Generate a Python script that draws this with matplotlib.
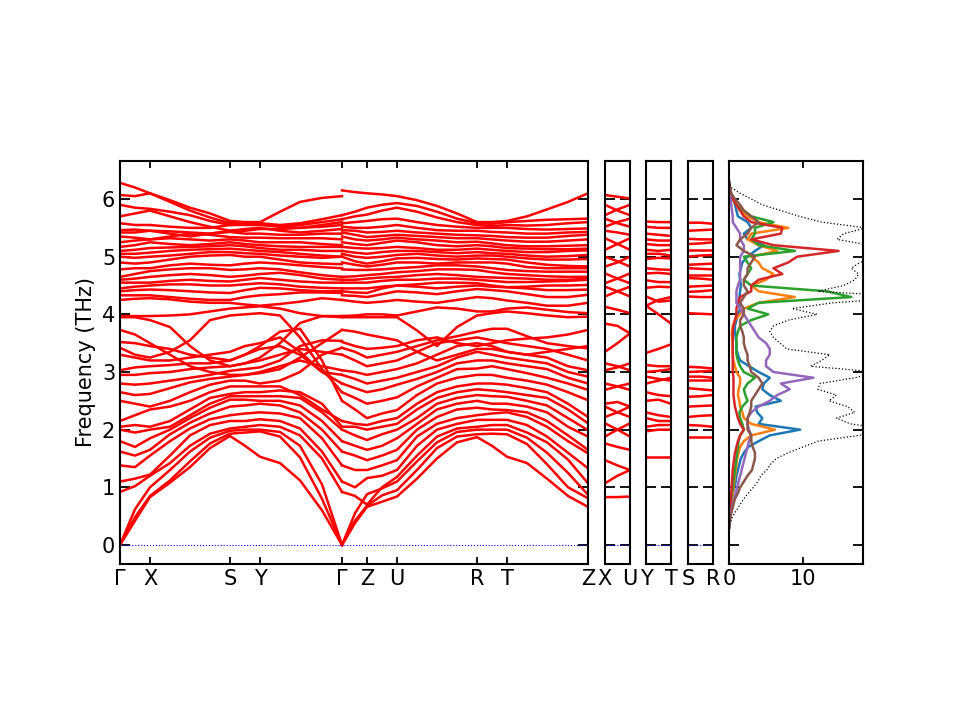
import numpy as np
import matplotlib
matplotlib.use('Agg')
import matplotlib.pyplot as plt


# k-path distances of the sampled columns (Gamma-X-S-Y-Gamma | Gamma-Z-U-R-T-Z)
kdist_left = [0, 15, 30, 50, 70, 90, 110, 125, 140, 160, 180, 202, 222]
kdist_right = [222, 235, 247, 262, 277, 297, 317, 337, 357, 372, 387, 407, 427, 448, 468]
hs_pos = [0, 30, 110, 140, 222, 247, 277, 357, 387, 468]
hs_labels = ['Γ', 'X', 'S', 'Y', 'Γ', 'Z', 'U', 'R', 'T', 'Z']

# frequencies (THz) along Gamma-X-S-Y-Gamma
left_bands = [
    [0, .42, .83, 1.08, 1.35, 1.68, 1.89, 1.72, 1.53, 1.42, 1.12, .6, 0],
    [0, .48, .85, 1.12, 1.45, 1.76, 1.93, 1.95, 1.97, 1.88, 1.52, .8, 0],
    [0, .62, 1.0, 1.3, 1.62, 1.86, 1.98, 2.0, 2.0, 1.96, 1.72, 1.05, 0],
    [.92, 1.02, 1.2, 1.42, 1.72, 1.93, 2.02, 2.05, 2.08, 2.05, 1.9, 1.5, .92],
    [1.1, 1.15, 1.22, 1.55, 1.9, 2.08, 2.15, 2.15, 2.18, 2.15, 2.02, 1.62, 1.1],
    [1.38, 1.35, 1.55, 1.8, 2.02, 2.18, 2.25, 2.28, 2.3, 2.28, 2.2, 1.85, 1.38],
    [1.62, 1.55, 1.65, 1.92, 2.12, 2.28, 2.4, 2.42, 2.45, 2.42, 2.3, 2.0, 1.62],
    [1.8, 1.7, 1.85, 2.0, 2.2, 2.38, 2.52, 2.52, 2.5, 2.5, 2.42, 2.15, 1.8],
    [2.0, 1.95, 2.0, 2.05, 2.25, 2.45, 2.58, 2.58, 2.58, 2.58, 2.55, 2.3, 2.0],
    [2.05, 2.08, 2.05, 2.15, 2.35, 2.55, 2.62, 2.65, 2.65, 2.68, 2.65, 2.45, 2.05],
    [2.15, 2.25, 2.35, 2.4, 2.5, 2.65, 2.75, 2.75, 2.75, 2.75, 2.6, 2.35, 2.15],
    [2.5, 2.45, 2.4, 2.5, 2.65, 2.78, 2.85, 2.85, 2.8, 2.85, 3.0, 3.3, 3.42],
    [2.65, 2.6, 2.62, 2.72, 2.82, 2.88, 2.92, 2.95, 2.98, 3.05, 3.25, 3.5, 3.73],
    [2.8, 2.78, 2.8, 2.85, 2.9, 2.95, 3.02, 3.05, 3.08, 3.2, 3.45, 3.55, 3.54],
    [2.95, 2.95, 2.98, 3.0, 3.05, 3.08, 3.1, 3.15, 3.2, 3.3, 3.4, 3.35, 3.3],
    [3.03, 3.08, 3.1, 3.12, 3.15, 3.15, 3.2, 3.3, 3.4, 3.45, 3.3, 3.0, 2.95],
    [3.3, 3.25, 3.2, 3.2, 3.25, 3.3, 3.35, 3.45, 3.5, 3.6, 3.35, 3.0, 2.8],
    [3.42, 3.3, 3.25, 3.35, 3.55, 3.9, 3.98, 4.0, 4.02, 3.98, 3.6, 3.05, 2.65],
    [3.52, 3.5, 3.45, 3.4, 3.3, 3.25, 3.2, 3.3, 3.45, 3.7, 3.75, 3.2, 2.5],
    [3.73, 3.65, 3.5, 3.3, 3.1, 3.0, 2.95, 2.95, 3.0, 3.1, 3.2, 3.1, 3.03],
    [3.95, 3.95, 3.9, 3.78, 3.45, 3.2, 3.1, 3.15, 3.25, 3.5, 3.85, 3.97, 3.95],
    [3.97, 3.97, 3.97, 3.98, 4.0, 4.05, 4.1, 4.12, 4.14, 4.1, 4.02, 3.97, 3.97],
    [4.25, 4.27, 4.28, 4.26, 4.22, 4.2, 4.2, 4.17, 4.15, 4.18, 4.22, 4.28, 4.25],
    [4.33, 4.33, 4.33, 4.3, 4.27, 4.25, 4.25, 4.3, 4.33, 4.35, 4.38, 4.38, 4.37],
    [4.4, 4.42, 4.43, 4.42, 4.4, 4.38, 4.37, 4.42, 4.46, 4.45, 4.42, 4.4, 4.4],
    [4.45, 4.48, 4.5, 4.52, 4.52, 4.5, 4.5, 4.52, 4.54, 4.52, 4.48, 4.46, 4.45],
    [4.55, 4.55, 4.55, 4.58, 4.6, 4.58, 4.57, 4.6, 4.63, 4.6, 4.57, 4.55, 4.55],
    [4.6, 4.62, 4.65, 4.68, 4.7, 4.68, 4.65, 4.67, 4.7, 4.72, 4.68, 4.62, 4.6],
    [4.65, 4.7, 4.75, 4.78, 4.8, 4.8, 4.77, 4.78, 4.8, 4.78, 4.73, 4.68, 4.65],
    [4.78, 4.8, 4.8, 4.85, 4.88, 4.86, 4.85, 4.88, 4.9, 4.88, 4.85, 4.82, 4.8],
    [4.9, 4.88, 4.9, 4.95, 5.0, 5.02, 5.03, 5.0, 5.0, 4.95, 4.9, 4.88, 4.87],
    [5.0, 4.98, 5.0, 5.02, 5.05, 5.08, 5.08, 5.06, 5.05, 5.02, 5.0, 4.98, 5.0],
    [5.05, 5.05, 5.07, 5.1, 5.12, 5.13, 5.14, 5.12, 5.1, 5.08, 5.05, 5.02, 5.0],
    [5.1, 5.12, 5.15, 5.16, 5.17, 5.18, 5.2, 5.18, 5.15, 5.12, 5.12, 5.1, 5.1],
    [5.17, 5.2, 5.25, 5.22, 5.2, 5.22, 5.25, 5.22, 5.2, 5.18, 5.17, 5.17, 5.17],
    [5.25, 5.28, 5.3, 5.32, 5.3, 5.28, 5.3, 5.28, 5.25, 5.25, 5.25, 5.22, 5.2],
    [5.35, 5.33, 5.3, 5.35, 5.4, 5.38, 5.34, 5.33, 5.33, 5.32, 5.32, 5.32, 5.3],
    [5.42, 5.42, 5.45, 5.44, 5.42, 5.4, 5.43, 5.4, 5.4, 5.38, 5.38, 5.4, 5.4],
    [5.46, 5.47, 5.45, 5.4, 5.35, 5.4, 5.45, 5.48, 5.5, 5.45, 5.42, 5.45, 5.48],
    [5.7, 5.75, 5.8, 5.7, 5.6, 5.52, 5.45, 5.45, 5.48, 5.48, 5.5, 5.55, 5.6],
    [5.58, 5.55, 5.55, 5.52, 5.5, 5.5, 5.55, 5.56, 5.58, 5.52, 5.5, 5.52, 5.55],
    [5.9, 5.85, 5.83, 5.78, 5.72, 5.62, 5.55, 5.55, 5.55, 5.52, 5.55, 5.6, 5.65],
    [6.07, 6.05, 6.1, 5.95, 5.8, 5.68, 5.58, 5.58, 5.58, 5.55, 5.58, 5.65, 5.72],
    [6.28, 6.2, 6.1, 5.98, 5.85, 5.75, 5.62, 5.6, 5.6, 5.78, 5.95, 6.02, 6.05],
]

# frequencies (THz) along Gamma-Z-U-R-T-Z
right_bands = [
    [0, .38, .66, .75, .84, 1.15, 1.5, 1.78, 1.87, 1.72, 1.53, 1.42, 1.15, .85, .66],
    [0, .42, .68, .86, .95, 1.3, 1.68, 1.88, 1.92, 1.93, 1.92, 1.75, 1.4, 1.0, .81],
    [0, .55, .88, .98, 1.1, 1.45, 1.78, 1.96, 2.0, 2.0, 2.0, 1.86, 1.6, 1.25, .87],
    [.92, .85, .7, 1.0, 1.18, 1.55, 1.88, 2.02, 2.05, 2.08, 2.08, 1.95, 1.78, 1.48, 1.07],
    [1.1, 1.0, 1.16, 1.2, 1.3, 1.72, 2.0, 2.1, 2.17, 2.17, 2.17, 2.08, 1.88, 1.6, 1.33],
    [1.38, 1.3, 1.3, 1.38, 1.47, 1.88, 2.1, 2.2, 2.25, 2.28, 2.3, 2.22, 2.05, 1.8, 1.59],
    [1.62, 1.55, 1.47, 1.55, 1.65, 2.0, 2.22, 2.35, 2.38, 2.35, 2.34, 2.3, 2.15, 1.9, 1.65],
    [1.8, 1.72, 1.65, 1.72, 1.85, 2.1, 2.35, 2.45, 2.5, 2.45, 2.45, 2.4, 2.3, 2.05, 1.88],
    [2.0, 1.9, 1.82, 1.92, 2.0, 2.2, 2.45, 2.55, 2.6, 2.58, 2.57, 2.5, 2.42, 2.2, 1.99],
    [2.05, 2.05, 2.0, 2.05, 2.1, 2.35, 2.55, 2.65, 2.7, 2.68, 2.65, 2.6, 2.55, 2.35, 2.11],
    [2.15, 2.1, 2.08, 2.15, 2.2, 2.45, 2.65, 2.75, 2.8, 2.8, 2.78, 2.72, 2.65, 2.45, 2.22],
    [2.5, 2.35, 2.2, 2.28, 2.34, 2.6, 2.8, 2.9, 2.95, 2.95, 2.9, 2.85, 2.78, 2.65, 2.51],
    [2.65, 2.55, 2.45, 2.5, 2.56, 2.75, 2.9, 3.05, 3.06, 3.1, 3.05, 2.98, 2.9, 2.8, 2.69],
    [2.8, 2.72, 2.65, 2.7, 2.78, 2.88, 3.0, 3.15, 3.2, 3.2, 3.15, 3.1, 3.05, 2.9, 2.8],
    [2.95, 2.88, 2.8, 2.85, 2.9, 3.0, 3.1, 3.25, 3.35, 3.3, 3.25, 3.2, 3.15, 3.0, 2.92],
    [3.03, 3.0, 2.95, 3.0, 3.05, 3.15, 3.3, 3.45, 3.5, 3.45, 3.35, 3.3, 3.25, 3.1, 3.03],
    [3.3, 3.2, 3.1, 3.15, 3.2, 3.35, 3.5, 3.55, 3.6, 3.55, 3.5, 3.45, 3.4, 3.3, 3.2],
    [3.42, 3.35, 3.25, 3.3, 3.35, 3.45, 3.55, 3.62, 3.7, 3.75, 3.75, 3.62, 3.5, 3.45, 3.41],
    [3.52, 3.45, 3.4, 3.42, 3.45, 3.55, 3.6, 3.5, 3.45, 3.5, 3.55, 3.58, 3.6, 3.65, 3.73],
    [3.73, 3.7, 3.65, 3.6, 3.55, 3.35, 3.2, 3.3, 3.4, 3.4, 3.35, 3.3, 3.35, 3.4, 3.45],
    [3.95, 3.95, 3.95, 3.95, 3.95, 3.72, 3.45, 3.78, 3.98, 4.02, 4.05, 4.02, 3.98, 3.95, 3.96],
    [3.97, 3.98, 4.0, 4.0, 3.98, 4.05, 4.12, 4.1, 4.05, 4.05, 4.1, 4.12, 4.08, 4.04, 4.02],
    [4.25, 4.22, 4.2, 4.22, 4.25, 4.22, 4.2, 4.25, 4.3, 4.28, 4.24, 4.2, 4.15, 4.15, 4.2],
    [4.33, 4.32, 4.3, 4.35, 4.4, 4.38, 4.35, 4.4, 4.44, 4.42, 4.4, 4.35, 4.3, 4.3, 4.34],
    [4.4, 4.38, 4.37, 4.45, 4.5, 4.48, 4.45, 4.48, 4.5, 4.48, 4.47, 4.45, 4.42, 4.42, 4.43],
    [4.45, 4.45, 4.45, 4.48, 4.5, 4.52, 4.55, 4.55, 4.54, 4.5, 4.47, 4.48, 4.5, 4.5, 4.51],
    [4.55, 4.55, 4.55, 4.58, 4.6, 4.6, 4.62, 4.62, 4.6, 4.58, 4.56, 4.56, 4.57, 4.58, 4.6],
    [4.6, 4.6, 4.62, 4.64, 4.65, 4.68, 4.7, 4.68, 4.65, 4.64, 4.63, 4.62, 4.6, 4.6, 4.62],
    [4.65, 4.66, 4.68, 4.7, 4.73, 4.75, 4.78, 4.78, 4.77, 4.73, 4.7, 4.68, 4.66, 4.65, 4.65],
    [4.78, 4.77, 4.77, 4.78, 4.8, 4.82, 4.85, 4.85, 4.83, 4.8, 4.77, 4.75, 4.74, 4.74, 4.74],
    [4.9, 4.86, 4.83, 4.86, 4.9, 4.9, 4.88, 4.9, 4.9, 4.9, 4.88, 4.82, 4.8, 4.8, 4.8],
    [5.0, 4.92, 4.88, 4.92, 4.97, 4.98, 4.96, 4.95, 4.97, 4.96, 4.95, 4.9, 4.86, 4.84, 4.83],
    [5.05, 5.0, 4.98, 5.0, 5.03, 5.05, 5.02, 5.0, 5.02, 5.02, 5.0, 4.97, 4.95, 4.95, 4.96],
    [5.1, 5.07, 5.05, 5.08, 5.1, 5.1, 5.08, 5.06, 5.08, 5.06, 5.05, 5.02, 5.0, 5.01, 5.03],
    [5.17, 5.15, 5.14, 5.15, 5.17, 5.15, 5.12, 5.12, 5.14, 5.12, 5.1, 5.08, 5.08, 5.1, 5.11],
    [5.25, 5.22, 5.2, 5.24, 5.28, 5.25, 5.2, 5.18, 5.2, 5.18, 5.15, 5.14, 5.13, 5.13, 5.14],
    [5.35, 5.3, 5.28, 5.3, 5.33, 5.3, 5.28, 5.25, 5.26, 5.23, 5.2, 5.18, 5.18, 5.19, 5.2],
    [5.42, 5.38, 5.34, 5.36, 5.38, 5.36, 5.34, 5.32, 5.32, 5.3, 5.28, 5.26, 5.26, 5.28, 5.3],
    [5.46, 5.45, 5.42, 5.43, 5.45, 5.42, 5.4, 5.38, 5.37, 5.36, 5.34, 5.33, 5.33, 5.36, 5.38],
    [5.52, 5.5, 5.5, 5.52, 5.55, 5.5, 5.46, 5.45, 5.45, 5.43, 5.42, 5.4, 5.4, 5.42, 5.43],
    [5.58, 5.6, 5.62, 5.65, 5.66, 5.6, 5.55, 5.52, 5.5, 5.5, 5.5, 5.48, 5.47, 5.48, 5.49],
    [5.65, 5.7, 5.73, 5.8, 5.85, 5.78, 5.68, 5.6, 5.55, 5.53, 5.55, 5.54, 5.55, 5.58, 5.6],
    [5.72, 5.78, 5.85, 5.9, 5.93, 5.88, 5.78, 5.66, 5.58, 5.57, 5.6, 5.62, 5.64, 5.65, 5.66],
    [6.15, 6.12, 6.1, 6.08, 6.05, 5.98, 5.88, 5.75, 5.6, 5.6, 5.62, 5.7, 5.82, 5.95, 6.1],
]

# short branches: values at start, middle, end
kdist_short = [0, 12.5, 25]
xu_bands = [
    [6.07, 6.04, 6.01], [5.9, 5.8, 5.72], [5.72, 5.82, 5.9], [5.66, 5.58, 5.52],
    [5.52, 5.6, 5.66], [5.45, 5.42, 5.38], [5.32, 5.22, 5.12], [5.12, 5.22, 5.32],
    [5.0, 4.92, 4.83], [4.83, 4.9, 5.0], [4.71, 4.62, 4.54], [4.54, 4.62, 4.71],
    [4.48, 4.4, 4.31], [4.31, 4.4, 4.48], [4.13, 4.08, 4.02], [3.84, 3.8, 3.67],
    [3.35, 3.5, 3.67], [3.15, 3.1, 3.03], [3.03, 3.08, 3.15], [2.8, 2.75, 2.69],
    [2.69, 2.75, 2.8], [2.45, 2.48, 2.4], [2.4, 2.3, 2.22], [2.22, 2.3, 2.4],
    [2.11, 2.0, 1.88], [1.88, 2.0, 2.11], [1.76, 1.7, 1.65], [1.47, 1.38, 1.3],
    [1.07, 1.2, 1.3], [0.83, 0.83, 0.84],
]
yt_bands = [
    [5.61, 5.6, 5.6], [5.52, 5.5, 5.5], [5.4, 5.38, 5.36], [5.3, 5.28, 5.28],
    [5.22, 5.2, 5.2], [5.12, 5.1, 5.12], [5.05, 5.05, 5.02], [4.96, 4.98, 4.97],
    [4.8, 4.78, 4.77], [4.71, 4.72, 4.7], [4.59, 4.56, 4.56], [4.46, 4.48, 4.47],
    [4.31, 4.22, 4.24], [4.15, 4.25, 4.3], [4.15, 4.0, 3.84], [3.33, 3.4, 3.48],
    [3.12, 3.1, 3.1], [3.0, 3.02, 3.05], [2.92, 2.88, 2.85], [2.8, 2.85, 2.9],
    [2.65, 2.6, 2.58], [2.5, 2.52, 2.45], [2.3, 2.25, 2.22], [2.2, 2.15, 2.15],
    [2.05, 2.08, 2.08], [1.97, 2.0, 2.0], [1.53, 1.53, 1.53],
]
sr_bands = [
    [5.59, 5.59, 5.57], [5.45, 5.46, 5.47], [5.31, 5.3, 5.3], [5.22, 5.23, 5.25],
    [5.12, 5.12, 5.12], [5.0, 5.02, 5.03], [4.86, 4.87, 4.88], [4.8, 4.79, 4.78],
    [4.68, 4.68, 4.68], [4.63, 4.62, 4.6], [4.48, 4.49, 4.5], [4.39, 4.4, 4.42],
    [4.31, 4.3, 4.3], [4.02, 4.01, 4.0], [3.09, 3.08, 3.06], [3.0, 3.01, 3.02],
    [2.92, 2.92, 2.9], [2.86, 2.86, 2.86], [2.72, 2.7, 2.68], [2.57, 2.58, 2.6],
    [2.4, 2.41, 2.42], [2.22, 2.24, 2.25], [2.08, 2.07, 2.05], [1.88, 1.88, 1.88],
]
short_panels = [(xu_bands, 'X', 'U'), (yt_bands, 'Y', 'T'), (sr_bands, 'S', 'R')]

# density of states
dos_freq = [0.3, 0.4, 0.5, 0.6, 0.7, 0.8, 0.9, 1.0, 1.1, 1.2, 1.3, 1.4, 1.5, 1.6, 1.7, 1.8,
            1.9, 2.0, 2.1, 2.2, 2.3, 2.4, 2.5, 2.6, 2.7, 2.8, 2.9, 3.0, 3.1, 3.2, 3.3, 3.4,
            3.5, 3.6, 3.7, 3.8, 3.9, 4.0, 4.1, 4.2, 4.3, 4.4, 4.5, 4.6, 4.7, 4.8, 4.9, 5.0,
            5.1, 5.2, 5.3, 5.4, 5.5, 5.6, 5.7, 5.8, 5.9, 6.0, 6.1, 6.2, 6.3]
total_dos = [0, 0.2, 0.5, 1.0, 1.5, 2.0, 2.6, 3.3, 3.9, 4.3, 5.1, 5.6, 6.4, 8.0, 10.0, 12.0,
             17.5, 22, 16.4, 14.5, 17.0, 16.0, 13.5, 14.5, 12.0, 12.3, 17.0, 20, 11.0, 12.5, 13.6, 7.8,
             6.9, 6.0, 5.5, 6.0, 8.0, 11.9, 8.5, 14.0, 25, 12.0, 15.5, 17.0, 17.5, 16.5, 17.7, 20,
             22, 19, 14.6, 15.5, 18.5, 12.5, 9.5, 7.0, 4.5, 3.0, 1.5, 0.3, 0]
pdos = [
    [0, 0.05, 0.1, 0.2, 0.3, 0.4, 0.5, 0.7, 0.9, 1.0, 1.2, 1.4, 1.6, 2.0, 2.6, 4.0,
     5.5, 9.6, 4.0, 4.5, 3.8, 3.6, 7.0, 5.5, 4.5, 4.7, 5.5, 4.0, 2.7, 1.5, 1.2, 1.0,
     1.0, 0.9, 0.8, 0.8, 1.0, 1.2, 1.5, 1.3, 1.4, 1.5, 1.6, 1.5, 1.4, 1.6, 1.8, 2.5,
     3.5, 4.7, 2.5, 2.0, 3.0, 2.5, 1.2, 1.0, 0.8, 0.6, 0.3, 0.1, 0],
    [0, 0.05, 0.1, 0.2, 0.3, 0.4, 0.5, 0.6, 0.7, 0.8, 0.9, 1.0, 1.1, 1.3, 1.5, 2.0,
     3.0, 6.2, 3.0, 2.0, 1.8, 1.5, 1.4, 1.2, 1.3, 1.5, 1.5, 1.0, 0.8, 0.6, 0.5, 0.5,
     0.5, 0.4, 0.4, 0.5, 0.8, 1.5, 2.0, 4.0, 8.9, 4.0, 3.0, 5.0, 6.0, 4.5, 4.0, 3.0,
     6.5, 4.0, 2.5, 3.0, 8.0, 4.0, 2.5, 1.5, 1.0, 0.5, 0.2, 0.1, 0],
    [0, 0.05, 0.1, 0.15, 0.2, 0.3, 0.4, 0.5, 0.6, 0.7, 0.8, 0.9, 1.0, 1.1, 1.2, 1.3,
     1.5, 2.0, 1.8, 1.5, 1.4, 1.8, 2.5, 2.2, 2.0, 2.5, 3.5, 2.0, 1.5, 1.2, 1.0, 1.0,
     1.0, 1.0, 1.2, 1.5, 3.0, 5.3, 2.5, 4.0, 16.5, 13.2, 3.0, 2.0, 2.5, 3.0, 2.5, 2.0,
     8.9, 4.0, 3.0, 3.5, 3.5, 6.0, 3.0, 2.0, 1.0, 0.5, 0.2, 0.1, 0],
    [0, 0.05, 0.1, 0.15, 0.2, 0.25, 0.3, 0.35, 0.4, 0.45, 0.5, 0.6, 0.7, 0.8, 1.0, 1.2,
     1.5, 2.0, 1.5, 1.2, 1.0, 0.8, 0.7, 0.6, 0.6, 0.6, 0.6, 0.5, 0.5, 0.5, 0.5, 0.5,
     0.5, 0.5, 0.5, 0.6, 0.8, 1.0, 1.0, 1.2, 1.5, 3.0, 3.0, 4.0, 7.2, 6.0, 8.0, 9.2,
     14.8, 6.0, 3.0, 7.0, 7.2, 3.0, 2.0, 1.5, 1.0, 0.5, 0.2, 0.1, 0],
    [0, 0.1, 0.2, 0.3, 0.5, 0.7, 0.9, 1.1, 1.3, 1.5, 1.7, 1.9, 2.1, 2.3, 2.5, 2.7,
     3.0, 2.7, 2.5, 2.5, 3.0, 4.0, 5.5, 6.5, 8.2, 7.0, 11.4, 6.0, 5.0, 5.0, 5.5, 5.5,
     5.0, 4.0, 3.5, 3.0, 2.5, 2.0, 1.5, 1.0, 1.0, 1.0, 1.2, 1.5, 1.5, 1.5, 1.5, 1.5,
     2.0, 2.0, 1.5, 1.5, 1.0, 0.5, 0.5, 0.4, 0.3, 0.2, 0.1, 0, 0],
    [0, 0.1, 0.2, 0.4, 0.6, 0.8, 1.2, 1.5, 2.0, 2.5, 3.1, 3.3, 3.5, 3.5, 3.2, 3.0,
     3.0, 2.5, 2.5, 2.5, 2.8, 3.0, 3.0, 3.5, 4.0, 4.5, 4.0, 3.0, 2.8, 2.5, 2.5, 2.2,
     2.0, 2.0, 1.8, 1.5, 1.5, 2.0, 2.0, 1.5, 2.0, 2.5, 2.0, 2.0, 2.5, 2.5, 3.0, 3.5,
     2.0, 1.0, 1.5, 2.5, 3.0, 4.0, 3.0, 2.0, 1.5, 0.8, 0.3, 0.1, 0],
]
pdos_colors = ['tab:blue', 'tab:orange', 'tab:green', 'tab:red', 'tab:purple', 'tab:brown']

ylim = (-0.33, 6.66)
yticks = [0, 1, 2, 3, 4, 5, 6]
FS = 15


def style_axis(ax):
    ax.tick_params(direction='in', which='both', top=True, right=True,
                   labelsize=FS, width=1.3)
    ax.tick_params(axis='y', length=7)
    ax.tick_params(axis='x', length=5)
    for sp in ax.spines.values():
        sp.set_linewidth(1.5)


fig = plt.figure(figsize=(9.6, 7.2), dpi=100)

# main band panel
ax = fig.add_axes([0.125, 0.2167, 0.4875, 0.5597])
for band in left_bands:
    ax.plot(kdist_left, band, color='r', lw=1.8)
for band in right_bands:
    ax.plot(kdist_right, band, color='r', lw=1.8)
ax.axhline(0, color='b', ls=':', lw=0.8)
ax.set_xlim(hs_pos[0], hs_pos[-1])
ax.set_ylim(*ylim)
ax.set_xticks(hs_pos)
ax.set_xticklabels(hs_labels)
ax.set_yticks(yticks)
ax.set_ylabel('Frequency (THz)', fontsize=FS)
style_axis(ax)

# short branches
lefts = [0.6302, 0.6729, 0.7167]
for left, (bands, lab0, lab1) in zip(lefts, short_panels):
    a = fig.add_axes([left, 0.2167, 0.026, 0.5597])
    for band in bands:
        a.plot(kdist_short, band, color='r', lw=1.8)
    a.axhline(0, color='b', ls=':', lw=0.8)
    a.set_xlim(0, 25)
    a.set_ylim(*ylim)
    a.set_xticks([0, 25])
    a.set_xticklabels([lab0, lab1])
    a.set_yticks(yticks)
    a.set_yticklabels([])
    style_axis(a)

# DOS panel
ad = fig.add_axes([0.7594, 0.2167, 0.1396, 0.5597])
for vals, c in zip(pdos, pdos_colors):
    ad.plot(vals, dos_freq, color=c, lw=1.8)
ad.plot(total_dos, dos_freq, color='k', ls=':', lw=0.9)
ad.set_xlim(0, 18.1)
ad.set_ylim(*ylim)
ad.set_xticks([0, 10])
ad.set_yticks(yticks)
ad.set_yticklabels([])
style_axis(ad)

fig.savefig('out.png', dpi=100)
